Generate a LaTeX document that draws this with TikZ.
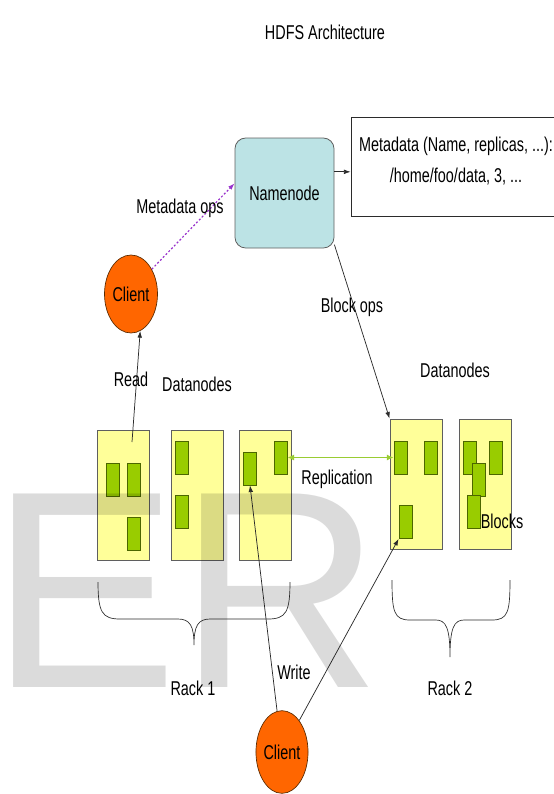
\documentclass[tikz,border=0pt]{standalone}
\usepackage{fontspec}
\setmainfont[FakeStretch=0.72]{Liberation Sans}
\newfontfamily\markfont{Liberation Sans}
\usetikzlibrary{shapes.geometric,arrows.meta}

\begin{document}
\begin{tikzpicture}[x=0.75pt, y=-0.75pt, font=\fontsize{15}{18}\selectfont,
    rackbox/.style={draw=borderColour, fill=rackFill, line width=0.6pt, minimum width=39pt, minimum height=97.5pt, inner sep=0pt},
    block/.style={draw=blockBorder, fill=blockFill, line width=0.6pt, minimum width=9.75pt, minimum height=24.75pt, inner sep=0pt},
    client/.style={ellipse, draw=clientBorder, fill=clientFill, line width=0.5pt, inner sep=0pt},
    tag/.style={anchor=base, inner sep=0pt},
    link/.style={draw=lineColour, line width=0.55pt, -{Latex[length=5pt,width=3.5pt]}}]
    \def\tipLen{5pt}

    \definecolor{borderColour}{HTML}{5F5F5F}
    \definecolor{lineColour}{HTML}{2B2B2B}
    \definecolor{rackFill}{HTML}{FFFF99}
    \definecolor{blockFill}{HTML}{99CC00}
    \definecolor{blockBorder}{HTML}{4C6600}
    \definecolor{nameFill}{HTML}{BCE3E5}
    \definecolor{clientFill}{HTML}{FF6600}
    \definecolor{clientBorder}{HTML}{5A2A00}
    \definecolor{replColour}{HTML}{99CC33}
    \definecolor{opsColour}{HTML}{9933CC}

    \useasboundingbox (0,0) rectangle (554,794);

    % Title
    \node[tag] (title) at (325,39) {HDFS Architecture};

    % Namenode and its metadata
    \node[draw=borderColour, fill=nameFill, rounded corners=8pt, line width=0.6pt,
          minimum width=74.25pt, minimum height=82.5pt, inner sep=0pt] (namenode) at (284.5,193) {Namenode};
    \node[draw=lineColour, fill=white, line width=0.6pt, minimum width=157.5pt, minimum height=74.25pt,
          align=center, text depth=10pt, font=\fontsize{15}{23}\selectfont] (metadata) at (456,166.5) {Metadata (Name, replicas, ...):\\/home/foo/data, 3, ...};
    \draw[link] (namenode.23) -- (namenode.23 -| metadata.west);

    % Clients
    \node[client, minimum width=39.75pt, minimum height=58.5pt] (topclient) at (131,294) {Client};
    \node[client, minimum width=38.5pt, minimum height=62pt] (botclient) at (282,752) {Client};

    % Racks of datanodes
    \foreach \name/\x/\y in {rackA/123/495, rackB/197/495, rackC/265/495, rackD/416/484, rackE/485/484}
        \node[rackbox] (\name) at (\x,\y) {};

    % Blocks
    \foreach \name/\x/\y in {b11/112.5/479.5, b12/134/479.5, b13/134/533.5,
                             b21/181.5/457.5, b22/181.5/511.5,
                             b31/250/468.5, b32/280.5/457.5,
                             b41/400.5/457.5, b42/431/457.5, b43/405.5/522,
                             b51/469.5/457.5, b52/495.5/457.5, b53/478.5/479.5, b54/474/511.5}
        \node[block] (\name) at (\x,\y) {};

    % Metadata ops
    \draw[draw=opsColour, line width=0.9pt, dash pattern=on 1.5pt off 1.5pt,
          -{Latex[length=\tipLen,width=3.5pt]}] (topclient.50) -- (namenode.169);
    \node[tag] (opslabel) at (180,213) {Metadata ops};

    % Read
    \coordinate (readfrom) at (132,442);
    \draw[link] (readfrom) -- (topclient.284);
    \node[tag] (readlabel) at (131,386) {Read};

    % Block ops
    \draw[link] (namenode.-46) -- (rackD.north west);
    \node[tag] (blocklabel) at (352,312) {Block ops};

    % Datanodes labels
    \node[tag] (dnleft) at (197,391) {Datanodes};
    \node[tag] (dnright) at (455,377) {Datanodes};

    % Replication
    \draw[draw=replColour, line width=1.4pt, {Latex[length=\tipLen,width=4.5pt]}-{Latex[length=\tipLen,width=4.5pt]}] (b32.east) -- (b41.west);
    \node[tag] (repllabel) at (337,484) {Replication};
    \node[tag] (blockslabel) at (502,528) {Blocks};

    % Write
    \draw[link] (botclient) -- (b31.south);
    \draw[link] (botclient) -- (b43.south west);
    \node[tag] (writelabel) at (294,679) {Write};

    % Braces under the racks
    \draw[draw=lineColour, line width=0.5pt] (98,582) .. controls (98,612) and (102,619) .. (120,619) -- (178,619)
        .. controls (190,619) and (194,626) .. (194,645) .. controls (194,626) and (198,619) .. (210,619) -- (268,619)
        .. controls (286,619) and (290,612) .. (290,582);
    \draw[draw=lineColour, line width=0.5pt] (392,580) .. controls (392,612) and (394,620) .. (410,620) -- (436,620)
        .. controls (446,620) and (450,628) .. (450,657) .. controls (450,628) and (454,620) .. (464,620) -- (492,620)
        .. controls (508,620) and (510,612) .. (510,580);
    \node[tag] (rack1) at (193,695) {Rack 1};
    \node[tag] (rack2) at (450,695) {Rack 2};

    % Watermark
    \node[anchor=base west, inner sep=0pt, text=black, text opacity=0.14,
          font=\markfont\fontsize{211}{211}\selectfont] (watermark) at (-9.6,687) {ER};

\end{tikzpicture}
\end{document}
